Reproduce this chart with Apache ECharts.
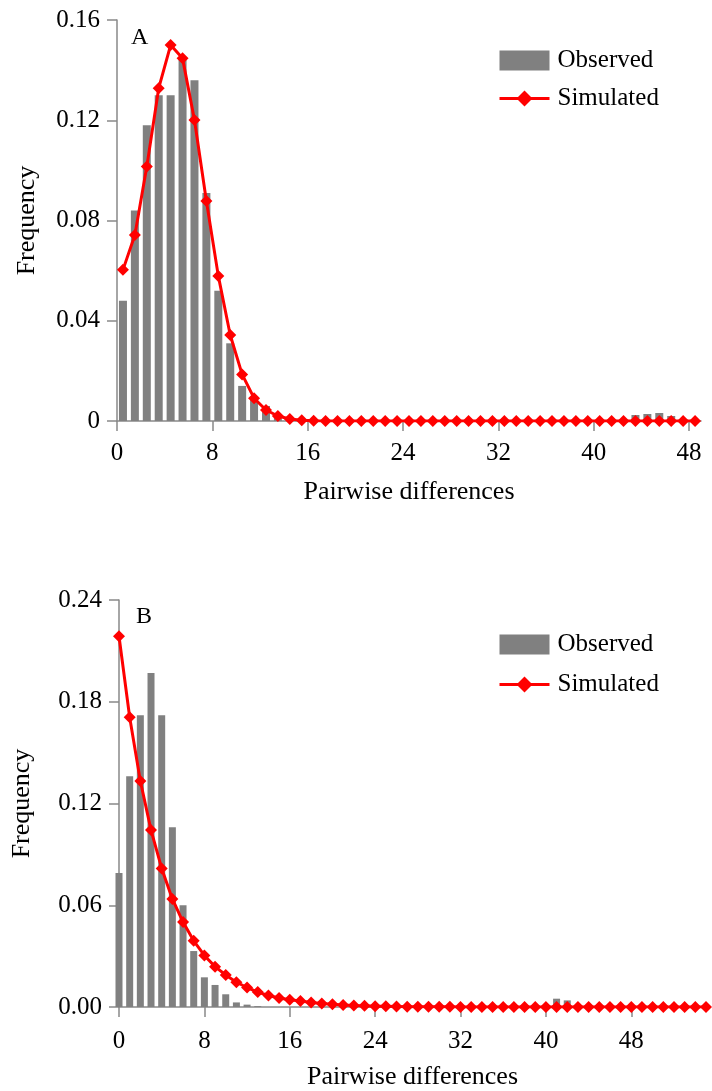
<!DOCTYPE html>
<html>
<head>
<meta charset="utf-8">
<script src="https://cdn.jsdelivr.net/npm/echarts@6/dist/echarts.min.js"></script>
<style>
    html, body { margin: 0; padding: 0; background: #fff; }
    #chart { width: 712px; height: 1091px; }
</style>
</head>
<body>
<div id="chart"></div>
<script>
// panel A: pairwise differences 0..48
const categoriesA = [0, 1, 2, 3, 4, 5, 6, 7, 8, 9, 10, 11, 12, 13, 14, 15, 16, 17, 18, 19, 20, 21, 22, 23, 24,
    25, 26, 27, 28, 29, 30, 31, 32, 33, 34, 35, 36, 37, 38, 39, 40, 41, 42, 43, 44, 45, 46, 47, 48]
const observedA = [0.048, 0.084, 0.118, 0.130, 0.130, 0.145, 0.136, 0.091, 0.052, 0.031, 0.014, 0.0085, 0.006,
    0.0025, 0.001, 0.0005, 0, 0, 0, 0, 0, 0, 0, 0, 0, 0, 0, 0, 0, 0, 0, 0, 0, 0, 0, 0, 0, 0, 0, 0, 0, 0, 0,
    0.0024, 0.0028, 0.0032, 0.002, 0.0008, 0]
const simulatedA = [0.0603, 0.0742, 0.1015, 0.1328, 0.150, 0.1447, 0.1201, 0.0878, 0.0579, 0.0343, 0.0186,
    0.0091, 0.0044, 0.002, 0.0008, 0.0003, 0.0001, 0, 0, 0, 0, 0, 0, 0, 0, 0, 0, 0, 0, 0, 0, 0, 0, 0, 0, 0,
    0, 0, 0, 0, 0, 0, 0, 0, 0, 0, 0, 0, 0]
const ticksA = [0, 8, 16, 24, 32, 40, 48]

// panel B: pairwise differences 0..55
const categoriesB = [0, 1, 2, 3, 4, 5, 6, 7, 8, 9, 10, 11, 12, 13, 14, 15, 16, 17, 18, 19, 20, 21, 22, 23, 24,
    25, 26, 27, 28, 29, 30, 31, 32, 33, 34, 35, 36, 37, 38, 39, 40, 41, 42, 43, 44, 45, 46, 47, 48, 49, 50,
    51, 52, 53, 54, 55]
const observedB = [0.079, 0.136, 0.172, 0.197, 0.172, 0.106, 0.060, 0.033, 0.0175, 0.013, 0.0075, 0.0027,
    0.0014, 0.0005, 0, 0, 0, 0, 0, 0, 0, 0, 0, 0, 0, 0, 0, 0, 0, 0, 0, 0, 0, 0, 0, 0, 0, 0, 0, 0, 0,
    0.0049, 0.0039, 0, 0, 0, 0, 0, 0, 0, 0, 0, 0, 0, 0, 0]
const simulatedB = [0.2186, 0.1709, 0.1333, 0.1043, 0.0817, 0.0637, 0.0501, 0.039, 0.0304, 0.0238, 0.0189,
    0.0146, 0.0115, 0.0088, 0.0068, 0.0053, 0.0043, 0.0035, 0.0027, 0.0021, 0.0016, 0.0012, 0.0009, 0.0007,
    0.0005, 0.0004, 0.0003, 0.0002, 0.0002, 0.0001, 0.0001, 0.0001, 0, 0, 0, 0, 0, 0, 0, 0, 0, 0, 0, 0, 0,
    0, 0, 0, 0, 0, 0, 0, 0, 0, 0, 0]

const font = "'Liberation Serif', 'Times New Roman', serif"
const axisColor = "#898989"
const barColor = "#808080"
const lineColor = "#ff0000"

const textStyle = { fontFamily: font, fontSize: 25, color: "#000" }
const nameStyle = { fontFamily: font, fontSize: 26, color: "#000" }
const panelTitle = { fontFamily: font, fontSize: 24, fontWeight: "normal", color: "#000" }

function legend(top, gap) {
    return {
        orient: "vertical",
        left: 498,
        top: top,
        padding: 0,
        itemWidth: 50,
        itemHeight: 20,
        itemGap: gap,
        textStyle: { ...textStyle, padding: [0, 0, 0, 3] },
        lineStyle: { width: 3 },
        data: [{ name: "Observed", icon: "rect" }, { name: "Simulated" }],
    }
}

function simLine(xi, yi, data) {
    return {
        name: "Simulated",
        type: "line",
        xAxisIndex: xi,
        yAxisIndex: yi,
        data: data,
        symbol: "diamond",
        symbolSize: 12,
        showAllSymbol: true,
        lineStyle: { color: lineColor, width: 3 },
        itemStyle: { color: lineColor },
        z: 3,
    }
}

const chart = echarts.init(document.getElementById("chart"), null, { renderer: "canvas" })

const option = {
    animation: false,
    title: [
        { text: "A", left: 126, top: 21, textStyle: panelTitle },
        { text: "B", left: 131, top: 600, textStyle: panelTitle },
    ],
    legend: [legend(48, 13), legend(632, 15)],
    grid: [
        { left: 117, top: 20, right: 11, bottom: 670 },
        { left: 119, top: 600, right: 6, bottom: 80 },
    ],
    xAxis: [
        {
            type: "category",
            gridIndex: 0,
            data: categoriesA,
            boundaryGap: true,
            axisLine: { lineStyle: { color: axisColor, width: 1.5 } },
            axisTick: { show: false },
            axisLabel: { show: false },
        },
        {
            // overlay axis: labels sit on the category boundaries
            type: "value",
            gridIndex: 0,
            position: "bottom",
            min: 0,
            max: 49,
            splitLine: { show: false },
            axisLine: { show: false },
            axisTick: { show: true, length: 10, lineStyle: { color: axisColor, width: 1.5 }, customValues: ticksA },
            axisLabel: { ...textStyle, margin: 20, customValues: ticksA },
            name: "Pairwise differences",
            nameLocation: "middle",
            nameGap: 58,
            nameTextStyle: nameStyle,
        },
        {
            type: "category",
            gridIndex: 1,
            data: categoriesB,
            boundaryGap: false,
            axisLine: { lineStyle: { color: axisColor, width: 1.5 } },
            axisTick: { show: true, length: 10, interval: 7, lineStyle: { color: axisColor, width: 1.5 } },
            axisLabel: { ...textStyle, margin: 22, interval: 7 },
            name: "Pairwise differences",
            nameLocation: "middle",
            nameGap: 57,
            nameTextStyle: nameStyle,
        },
    ],
    yAxis: [
        {
            type: "value",
            gridIndex: 0,
            min: 0,
            max: 0.16,
            interval: 0.04,
            splitLine: { show: false },
            axisLine: { show: true, lineStyle: { color: axisColor, width: 1.5 } },
            axisTick: { show: true, length: 10, lineStyle: { color: axisColor, width: 1.5 } },
            axisLabel: {
                ...textStyle,
                margin: 17,
                formatter: (v) => (v === 0 ? "0" : v.toFixed(2)),
            },
            name: "Frequency",
            nameLocation: "middle",
            nameRotate: 90,
            nameGap: 77,
            nameTextStyle: nameStyle,
        },
        {
            type: "value",
            gridIndex: 1,
            min: 0,
            max: 0.24,
            interval: 0.06,
            splitLine: { show: false },
            axisLine: { show: true, lineStyle: { color: axisColor, width: 1.5 } },
            axisTick: { show: true, length: 10, lineStyle: { color: axisColor, width: 1.5 } },
            axisLabel: {
                ...textStyle,
                margin: 17,
                formatter: (v) => v.toFixed(2),
            },
            name: "Frequency",
            nameLocation: "middle",
            nameRotate: 90,
            nameGap: 84,
            nameTextStyle: nameStyle,
        },
    ],
    series: [
        {
            name: "Observed",
            type: "bar",
            xAxisIndex: 0,
            yAxisIndex: 0,
            data: observedA,
            barWidth: 8,
            itemStyle: { color: barColor },
        },
        simLine(0, 0, simulatedA),
        {
            name: "Observed",
            type: "bar",
            xAxisIndex: 2,
            yAxisIndex: 1,
            data: observedB,
            barWidth: 7,
            clip: true,
            itemStyle: { color: barColor },
        },
        simLine(2, 1, simulatedB),
    ],
}

chart.setOption(option)
</script>
</body>
</html>
